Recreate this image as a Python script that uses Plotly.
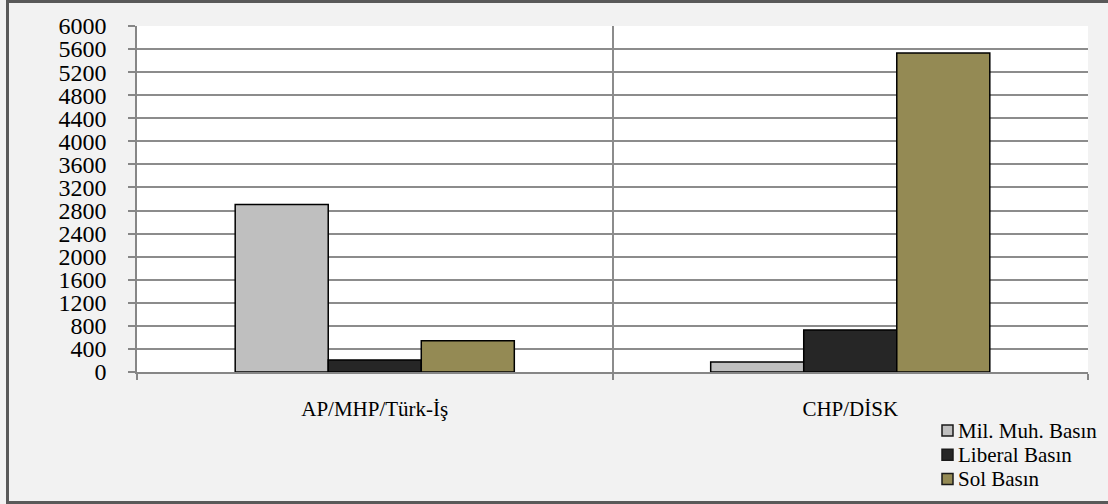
import plotly.graph_objects as go

categories = ["AP/MHP/Türk-İş", "CHP/DİSK"]
series_names = ["Mil. Muh. Basın", "Liberal Basın", "Sol Basın"]
mil_muh = [2905, 175]
liberal = [210, 730]
sol = [540, 5530]
colors = ["#bfbfbf", "#262626", "#948a54"]
y_ticks = list(range(0, 6001, 400))

W, H = 1108, 504
ML, MR, MT, MB = 137, 20, 26, 132

fig = go.Figure()
for name, vals, col in zip(series_names, [mil_muh, liberal, sol], colors):
    fig.add_trace(go.Bar(
        x=categories, y=vals, name=name, showlegend=False,
        marker=dict(color=col, line=dict(color="#000000", width=1.5)),
    ))

font = "Liberation Serif"
fig.update_layout(
    width=W, height=H,
    margin=dict(l=ML, r=MR, t=MT, b=MB, pad=0, autoexpand=False),
    paper_bgcolor="#f2f2f2",
    plot_bgcolor="#ffffff",
    barmode="group",
    bargap=0.413,
    bargroupgap=0,
    font=dict(family=font, color="#000000"),
    xaxis=dict(
        range=[-0.5, 1.5],
        tickson="boundaries",
        ticks="outside", ticklen=6, tickcolor="#868686", tickwidth=1.5,
        showline=True, linecolor="#868686", linewidth=1.5,
        showgrid=True, gridcolor="#8c8c8c", gridwidth=1.5,
        tickfont=dict(family=font, size=21, color="#000000"),
        ticklabelstandoff=17,
    ),
    yaxis=dict(
        range=[0, 6000],
        tickvals=y_ticks,
        ticktext=[str(v) for v in y_ticks],
        ticks="outside", ticklen=7, tickcolor="#868686", tickwidth=1.5,
        showline=True, linecolor="#868686", linewidth=1.5,
        showgrid=True, gridcolor="#8c8c8c", gridwidth=1.5,
        zeroline=False,
        tickfont=dict(family=font, size=24, color="#000000"),
        ticklabelstandoff=17,
    ),
)

pw, ph = W - ML - MR, H - MT - MB
def px2x(px):
    return (px - ML) / pw
def px2y(py):
    return (H - MB - py) / ph

# outer frame
fig.add_shape(
    type="rect", xref="paper", yref="paper",
    x0=px2x(7.5), x1=px2x(1115), y0=px2y(502.5), y1=px2y(1.5),
    line=dict(color="#595959", width=3), fillcolor="rgba(0,0,0,0)",
    layer="above",
)

# legend (swatches + labels)
leg_x0, leg_y0, leg_dy, sw = 942, 430.5, 24.2, 11
for i, (name, col) in enumerate(zip(series_names, colors)):
    cy = leg_y0 + i * leg_dy
    fig.add_shape(
        type="rect", xref="paper", yref="paper",
        x0=px2x(leg_x0), x1=px2x(leg_x0 + sw),
        y0=px2y(cy + sw / 2), y1=px2y(cy - sw / 2),
        line=dict(color="#1a1a1a", width=1.5), fillcolor=col,
    )
    fig.add_annotation(
        xref="paper", yref="paper", x=px2x(leg_x0 + sw + 3), y=px2y(cy),
        xanchor="left", yanchor="middle", showarrow=False,
        text=name, font=dict(family=font, size=21, color="#000000"),
    )

fig.write_html(
    "out.html",
    config={"displayModeBar": False},
    post_script="document.body.style.margin='0px';",
)
